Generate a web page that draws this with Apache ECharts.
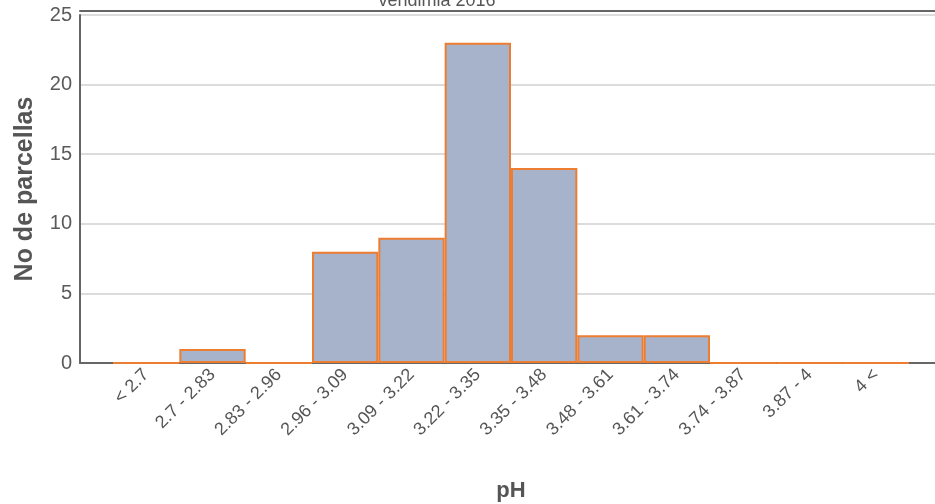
<!DOCTYPE html>
<html>
<head>
<meta charset="utf-8">
<script src="https://cdn.jsdelivr.net/npm/echarts@6/dist/echarts.min.js"></script>
<style>html,body{margin:0;padding:0;background:#fff}#c{width:935px;height:504px}</style>
</head>
<body>
<div id="c"></div>
<script>
const titleText = 'vendimia 2016';
const categories = ['< 2.7','2.7 - 2.83','2.83 - 2.96','2.96 - 3.09','3.09 - 3.22','3.22 - 3.35','3.35 - 3.48','3.48 - 3.61','3.61 - 3.74','3.74 - 3.87','3.87 - 4','4 <'];
const counts = [0,1,0,8,9,23,14,2,2,0,0,0];
const yName = 'No de parcellas';
const xName = 'pH';

const chart = echarts.init(document.getElementById('c'), null, {renderer:'canvas'});
const font = '"Liberation Sans", Arial, sans-serif';
chart.setOption({
  animation:false,
  title:{text:titleText, left:432, top:-13, textAlign:'center',
    textStyle:{fontFamily:font, fontSize:18, fontWeight:'normal', color:'#555'}},
  grid:[
    {left:80, right:0, top:15, bottom:141, outerBoundsMode:'none', containLabel:false},
    {left:113, right:26, top:15, bottom:141, outerBoundsMode:'none', containLabel:false}
  ],
  xAxis:[
    {gridIndex:0, type:'value', min:0, max:1, position:'bottom',
     axisLine:{show:true, onZero:false, lineStyle:{color:'#666', width:2}}, axisTick:{show:false}, axisLabel:{show:false}, splitLine:{show:false}},
    {gridIndex:0, type:'value', min:0, max:1, position:'top', offset:4,
     axisLine:{show:true, onZero:false, lineStyle:{color:'#666', width:2}}, axisTick:{show:false}, axisLabel:{show:false}, splitLine:{show:false}},
    {gridIndex:1, type:'category', data:categories,
     axisLine:{show:false, onZero:false}, axisTick:{show:false},
     axisLabel:{rotate:45, interval:0, margin:9, fontFamily:font, fontSize:18, color:'#555', hideOverlap:false},
     name:xName, nameLocation:'middle', nameGap:117,
     nameTextStyle:{fontFamily:font, fontSize:22, fontWeight:'bold', color:'#555'}}
  ],
  yAxis:[
    {gridIndex:0, type:'value', min:0, max:25, interval:5,
     axisLine:{show:true, lineStyle:{color:'#666', width:2}}, axisTick:{show:false},
     axisLabel:{fontFamily:font, fontSize:20, color:'#5a5a5a', margin:8},
     splitLine:{show:true, lineStyle:{color:'#dcdcdc', width:2}},
     name:yName, nameLocation:'middle', nameGap:42,
     nameTextStyle:{fontFamily:font, fontSize:25, fontWeight:'bold', color:'#555'}},
    {gridIndex:1, type:'value', min:0, max:25, show:false}
  ],
  series:[{
    type:'bar', xAxisIndex:2, yAxisIndex:1, data:counts,
    barCategoryGap:'0%',
    itemStyle:{color:'#a7b3ca', borderColor:'#ed7d31', borderWidth:2}
  }]
});
</script>
</body>
</html>
